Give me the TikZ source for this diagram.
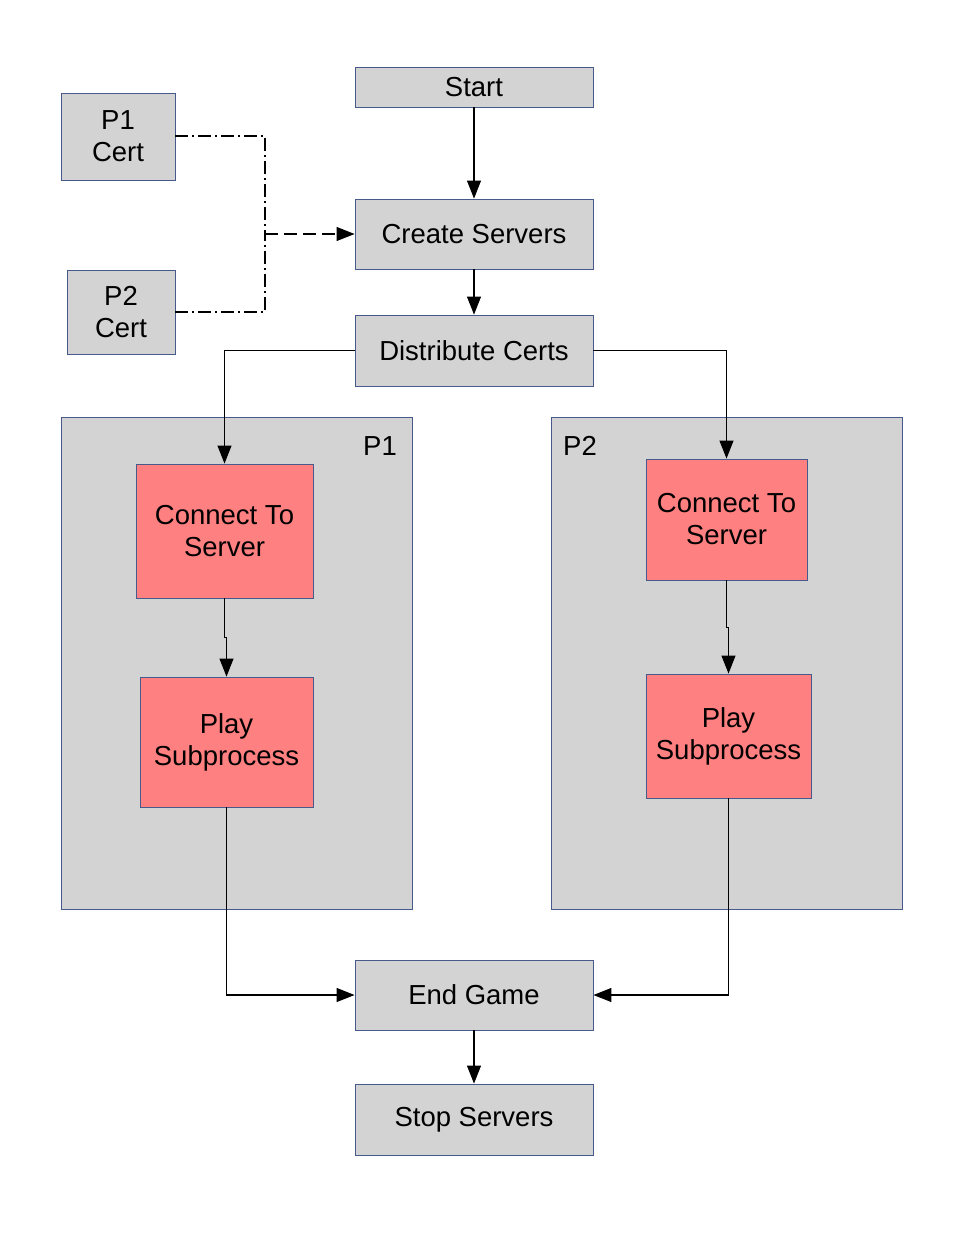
\documentclass[tikz,border=0pt]{standalone}
\usepackage{fontspec}
\setmainfont{Liberation Sans}
\usepackage{tikz}
\usetikzlibrary{arrows.meta,positioning}

\definecolor{boxgray}{RGB}{211,211,211}
\definecolor{boxline}{RGB}{70,90,140}
\definecolor{boxred}{RGB}{255,128,128}

\begin{document}
\begin{tikzpicture}[x=1pt,y=-1pt]
		\tikzset{Box/.style={rectangle, draw=boxline, line width=0.9pt, fill=boxgray, inner sep=0pt, align=center, font=\fontsize{27.5}{32}\selectfont}}
		\tikzset{Task/.style={Box, fill=boxred}}
		\tikzset{Lane/.style={draw=boxline, line width=0.9pt, fill=boxgray}}
		\tikzset{Flow/.style={line width=1.1pt, -{Triangle[length=18pt,width=14pt]}}}
		\tikzset{CertLink/.style={line width=1.1pt, dash pattern=on 13pt off 4pt on 2pt off 4pt}}

		\useasboundingbox (0,0) rectangle (961,1243);

		% player lanes
		\draw [Lane] (61,417) rectangle (412,909);
		\draw [Lane] (551,417) rectangle (902,909);
		\node (lane1) at (380,446) [font=\fontsize{27.5}{32}\selectfont] {P1};
		\node (lane2) at (580,446) [font=\fontsize{27.5}{32}\selectfont] {P2};

		\node (start)   at (474,87)     [Box, minimum width=238pt, minimum height=40pt] {Start};
		\node (create)  at (474,234)    [Box, minimum width=238pt, minimum height=70pt] {Create Servers};
		\node (distrib) at (474,350.5)  [Box, minimum width=238pt, minimum height=71pt] {Distribute Certs};
		\node (cert1)   at (118,136.5)  [Box, minimum width=114pt, minimum height=87pt] {P1\\Cert};
		\node (cert2)   at (121,312)    [Box, minimum width=108pt, minimum height=84pt] {P2\\Cert};

		\node (conn1)   at (224.5,531)  [Task, minimum width=177pt, minimum height=134pt] {Connect To\\Server};
		\node (play1)   at (226.5,742)  [Task, minimum width=173pt, minimum height=130pt] {Play\\Subprocess};
		\node (conn2)   at (726.5,519.5) [Task, minimum width=161pt, minimum height=121pt] {Connect To\\Server};
		\node (play2)   at (728.5,736)  [Task, minimum width=165pt, minimum height=124pt] {Play\\Subprocess};

		\node (endgame) at (474,995)    [Box, minimum width=238pt, minimum height=70pt] {End Game};
		\node (stop)    at (474,1119.5) [Box, minimum width=238pt, minimum height=71pt] {Stop Servers};

		\coordinate (join) at (265,234);

		\draw [Flow] (start) to (create);
		\draw [Flow] (create) to (distrib);

		\draw [CertLink] (cert1.east |- 0,136) -| (join);
		\draw [CertLink] (cert2.east) -| (join);
		\draw [Flow, dash pattern=on 13pt off 6pt] (join) to (create.west);

		\draw [Flow] (distrib.west) -| (conn1.north);
		\draw [Flow] (distrib.east) -| (conn2.north);

		\draw [Flow] (conn1.south) -- ++(0,39) -| (play1.north);
		\draw [Flow] (conn2.south) -- ++(0,47) -| (play2.north);

		\draw [Flow] (play1.south) |- (endgame.west);
		\draw [Flow] (play2.south) |- (endgame.east);
		\draw [Flow] (endgame) to (stop);
	\end{tikzpicture}
\end{document}
